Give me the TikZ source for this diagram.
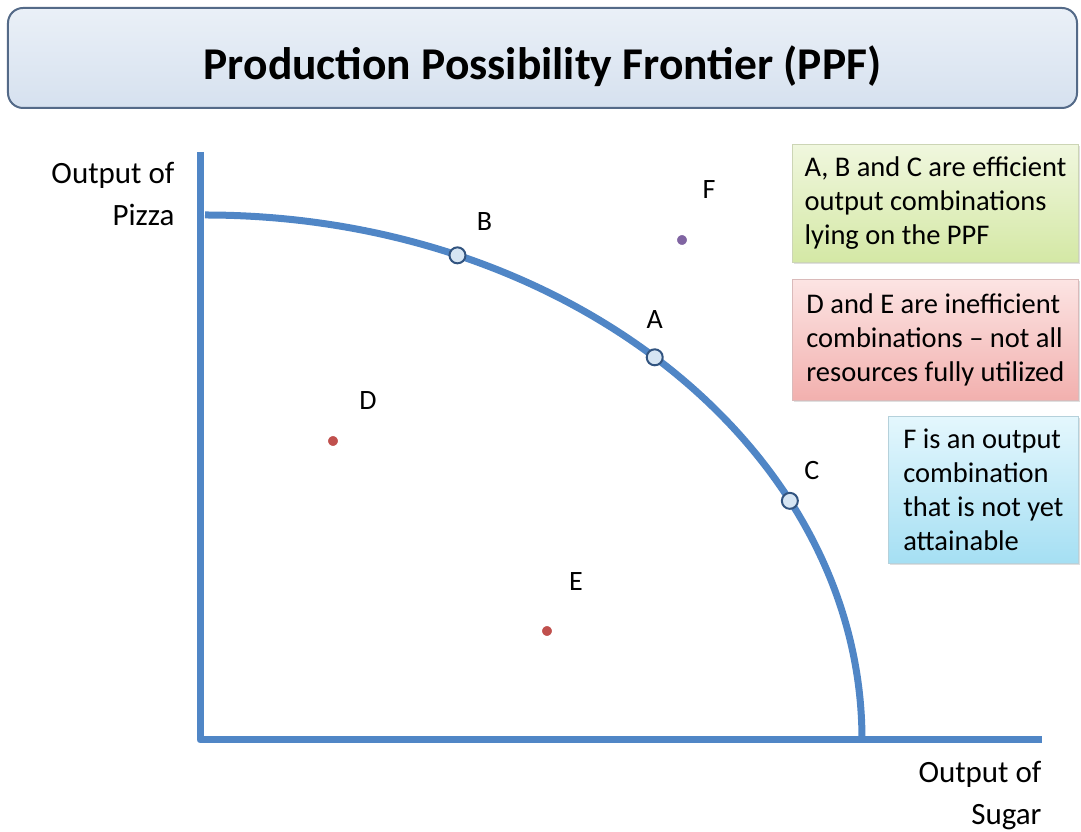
\documentclass[tikz,border=0pt]{standalone}
\usepackage{fontspec}
\setmainfont{Carlito}
\usetikzlibrary{calc,shadows}
\definecolor{axisblue}{RGB}{80,134,198}
\definecolor{markfill}{RGB}{214,229,243}
\definecolor{markline}{RGB}{50,84,128}
\definecolor{dotred}{RGB}{192,80,77}
\definecolor{dotpurple}{RGB}{128,100,162}
\definecolor{titletop}{RGB}{234,240,247}
\definecolor{titlebottom}{RGB}{214,225,239}
\definecolor{titleline}{RGB}{84,106,136}
\definecolor{greentop}{RGB}{240,247,222}
\definecolor{greenbottom}{RGB}{212,232,165}
\definecolor{redtop}{RGB}{252,228,227}
\definecolor{redbottom}{RGB}{242,176,174}
\definecolor{bluetop}{RGB}{228,247,253}
\definecolor{bluebottom}{RGB}{165,223,243}

\begin{document}
\begin{tikzpicture}[x=1pt, y=1pt,
    axis/.style={axisblue, line width=7pt},
    onppf/.style={circle, draw=markline, fill=markfill, line width=2pt, minimum size=16pt, inner sep=0pt},
    offppf/.style={circle, fill=#1, draw=white, line width=4pt, minimum size=14pt, inner sep=0pt,
        drop shadow={shadow xshift=0pt, shadow yshift=-1pt, shadow scale=1.12, opacity=0.22}},
    ptlabel/.style={font=\fontsize{28}{34}\selectfont},
    axlabel/.style={font=\fontsize{31}{42}\selectfont, align=right, anchor=east},
    notebox/.style 2 args={top color=#1, bottom color=#2, draw=#2!80!black!60, line width=0.8pt,
        anchor=north west, align=left, inner xsep=12pt, inner ysep=0pt,
        font=\fontsize{28.5}{34}\selectfont,
        drop shadow={shadow xshift=1.5pt, shadow yshift=-2pt, opacity=0.25}}]
    \useasboundingbox (-200,-92) rectangle (881,740);
    \node[rounded corners=15pt, top color=titletop, bottom color=titlebottom, draw=titleline, line width=2pt,
        minimum width=1069pt, minimum height=100pt, font=\fontsize{45.5}{54}\selectfont\bfseries] (title) at (342.5,682)
        {\raisebox{-22pt}[0pt][0pt]{Production Possibility Frontier (PPF)}};
    \draw[axis, line join=round] (0,588) -- (0,0) -- (842,0);
    \draw[axis] (5,525) arc[start angle=90, end angle=0, x radius=657, y radius=525];
    \path (5,0) ++(67.4:657 and 525) coordinate (B);
    \path (5,0) ++(46.8:657 and 525) coordinate (A);
    \path (5,0) ++(27.1:657 and 525) coordinate (C);
    \node[onppf] (b) at (B) {};
    \node[onppf] (a) at (A) {};
    \node[onppf] (c) at (C) {};
    \node[offppf=dotred] (d) at (133,299) {};
    \node[offppf=dotred] (e) at (347,109) {};
    \node[offppf=dotpurple] (f) at (482,500) {};
    \node[ptlabel] (labB) at ($(b)+(27,34)$) {B};
    \node[ptlabel] (labA) at ($(a)+(0,38)$) {A};
    \node[ptlabel] (labC) at ($(c)+(22,30)$) {C};
    \node[ptlabel] (labD) at ($(d)+(35,40)$) {D};
    \node[ptlabel] (labE) at ($(e)+(29,49)$) {E};
    \node[ptlabel] (labF) at ($(f)+(27,50)$) {F};
    \node[axlabel] (pizza) at (-22,546) {Output of\\Pizza};
    \node[axlabel] (sugar) at (845,-56) {Output of\\Sugar};
    \node[notebox={greentop}{greenbottom}, minimum width=286pt, minimum height=118pt] (effic) at (592,596)
        {A, B and C are efficient\\output combinations\\lying on the PPF};
    \node[notebox={redtop}{redbottom}, minimum width=286pt, minimum height=121pt] (ineffic) at (592,461)
        {D and E are inefficient\\combinations -- not all\\resources fully utilized};
    \node[notebox={bluetop}{bluebottom}, minimum width=190pt, minimum height=147pt] (unattain) at (688,324)
        {F is an output\\combination\\that is not yet\\attainable};
\end{tikzpicture}
\end{document}
